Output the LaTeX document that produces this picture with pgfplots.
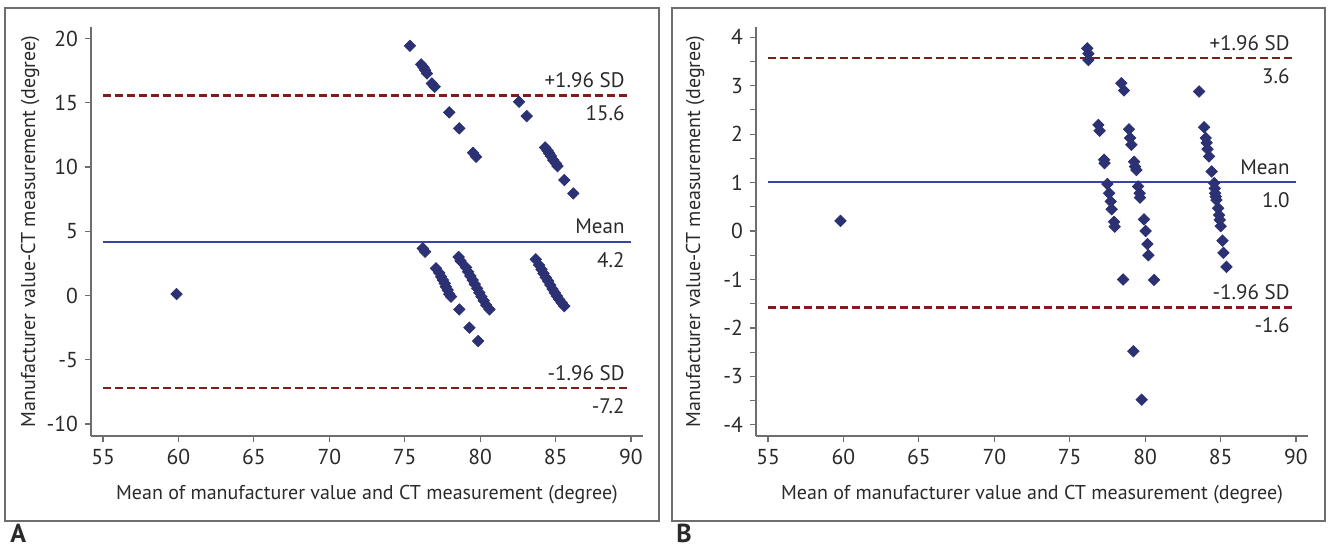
\documentclass[border=0pt]{standalone}
\usepackage{fontspec}
\setmainfont{PT Sans}
\usepackage{pgfplots}
\pgfplotsset{compat=1.18}
\definecolor{cDot}{HTML}{2B3172}
\definecolor{cMean}{HTML}{3A44A8}
\definecolor{cSD}{HTML}{7F1D1D}
\definecolor{cAx}{HTML}{6E6E6E}
\definecolor{cTxt}{HTML}{2A2A2A}

\pgfplotsset{ba/.style={
  scale only axis, width=276pt, height=204.5pt,
  axis lines=left, axis line style={cAx, line width=0.8pt, -},
  xmin=54.2, xmax=90.8, xtick={55,60,...,90},
  tick style={cAx, line width=0.6pt}, tick align=outside,
  major tick length=3pt, minor tick length=3pt,
  tick label style={font=\fontsize{10.8}{12}\selectfont, text=cTxt},
  label style={font=\fontsize{10}{12}\selectfont, text=cTxt},
  /pgf/number format/assume math mode=true,
  xlabel={Mean of manufacturer value and CT measurement (degree)},
  ylabel={Manufacturer value-CT measurement (degree)},
  xlabel style={at={(axis description cs:0.5,-0.144)}, anchor=center},
  ylabel style={at={(axis description cs:-0.11,0.5)}, anchor=center},
  clip=false,
},
dots/.style={only marks, mark=square*, mark size=2pt,
  mark options={rotate=45, draw=cDot, fill=cDot}},
meanl/.style={cMean, line width=1.15pt},
sdl/.style={cSD, line width=1.4pt, dash pattern=on 4pt off 2pt},
}
\tikzset{lab/.style={text=cTxt, font=\fontsize{10.5}{12}\selectfont, inner sep=0pt}}

\begin{document}
\begin{tikzpicture}
\draw[cAx, line width=0.75pt] (2.5pt,-4pt) rectangle (329.5pt,-260.5pt);
\draw[cAx, line width=0.75pt] (336pt,-4pt) rectangle (662.5pt,-260.5pt);
\node[anchor=base west, inner sep=0pt, font=\fontsize{13}{15}\selectfont\bfseries, text=cTxt] at (5pt,-271pt) {A};
\node[anchor=base west, inner sep=0pt, font=\fontsize{13}{15}\selectfont\bfseries, text=cTxt] at (338pt,-271pt) {B};

% panel A
\begin{axis}[ba, at={(45.5pt,-218pt)}, anchor=south west,
  ymin=-10.93, ymax=20.9, ytick={-10,-5,...,20}]
\addplot[sdl] coordinates {(55,15.6)(90,15.6)};
\addplot[sdl] coordinates {(55,-7.2)(90,-7.2)};
\addplot[meanl] coordinates {(55,4.17)(90,4.17)};
\addplot[dots] coordinates {
(75.35,19.44)(76.09,17.99)(76.25,17.76)(76.35,17.55)(76.47,17.29)(76.80,16.51)(76.98,16.25)
(77.95,14.26)(78.62,13.01)(79.53,11.11)(79.73,10.80)(82.58,15.08)(83.09,13.97)
(84.31,11.53)(84.47,11.27)(84.58,11.07)(84.69,10.86)(84.85,10.54)(85.02,10.29)(85.13,10.08)
(85.58,8.99)(86.18,7.95)
(59.87,0.12)
(76.20,3.67)(76.35,3.41)(77.07,2.12)
(77.29,1.77)(77.42,1.46)(77.53,1.21)(77.65,0.95)(77.73,0.68)(77.85,0.43)(77.95,0.12)(78.07,-0.09)
(78.62,-1.08)(78.58,3.00)(78.70,2.70)
(79.07,2.19)(79.20,1.85)(79.35,1.52)(79.51,1.21)(79.64,0.89)(79.80,0.56)(79.95,0.22)
(80.09,-0.09)(80.24,-0.40)(80.40,-0.74)(80.62,-1.07)
(79.29,-2.50)(79.87,-3.54)
(83.69,2.82)(83.91,2.37)(84.07,2.04)(84.20,1.73)(84.35,1.42)(84.51,1.13)(84.65,0.82)
(84.80,0.51)(84.95,0.22)(85.09,-0.04)(85.24,-0.30)(85.40,-0.56)(85.58,-0.82)
};
\node[lab, anchor=base east] at ([xshift=-3pt,yshift=4pt]axis cs:90,15.6) {+1.96 SD};
\node[lab, anchor=north east] at ([xshift=-3pt,yshift=-5pt]axis cs:90,15.6) {15.6};
\node[lab, anchor=base east] at ([xshift=-3pt,yshift=4pt]axis cs:90,4.17) {Mean};
\node[lab, anchor=north east] at ([xshift=-3pt,yshift=-5pt]axis cs:90,4.17) {4.2};
\node[lab, anchor=base east] at ([xshift=-3pt,yshift=4pt]axis cs:90,-7.2) {-1.96 SD};
\node[lab, anchor=north east] at ([xshift=-3pt,yshift=-5pt]axis cs:90,-7.2) {-7.2};
\end{axis}

% panel B
\begin{axis}[ba, at={(378pt,-218pt)}, anchor=south west,
  ymin=-4.23, ymax=4.21, ytick={-4,...,4}, minor ytick={-3.5,-2.5,...,3.5}]
\addplot[sdl] coordinates {(55,3.57)(90,3.57)};
\addplot[sdl] coordinates {(55,-1.57)(90,-1.57)};
\addplot[meanl] coordinates {(55,1.01)(90,1.01)};
\addplot[dots] coordinates {
(59.8,0.21)
(76.16,3.77)(76.24,3.66)(76.24,3.53)
(78.42,3.05)(78.60,2.90)(83.58,2.88)
(76.90,2.19)(76.98,2.07)
(78.93,2.10)(79.00,1.92)(79.09,1.78)
(77.28,1.47)(77.31,1.40)
(79.27,1.43)(79.33,1.33)(79.42,1.26)
(83.91,2.14)(84.02,1.92)(84.08,1.82)(84.14,1.69)(84.24,1.54)(84.41,1.23)
(77.50,0.97)(77.61,0.78)(77.72,0.61)(77.78,0.45)(77.94,0.19)(77.98,0.09)
(79.53,0.92)(79.64,0.78)(79.66,0.69)
(79.93,0.24)(80.03,0.00)(80.15,-0.27)(80.21,-0.50)
(78.54,-1.00)(80.59,-1.01)
(84.58,0.99)(84.62,0.88)(84.64,0.78)(84.68,0.71)(84.73,0.64)(84.84,0.47)(84.90,0.33)
(84.95,0.23)(85.01,0.10)(85.13,-0.20)(85.19,-0.45)(85.39,-0.74)
(79.22,-2.48)(79.77,-3.48)
};
\node[lab, anchor=base east] at ([xshift=-3pt,yshift=4pt]axis cs:90,3.57) {+1.96 SD};
\node[lab, anchor=north east] at ([xshift=-3pt,yshift=-5pt]axis cs:90,3.57) {3.6};
\node[lab, anchor=base east] at ([xshift=-3pt,yshift=4pt]axis cs:90,1.01) {Mean};
\node[lab, anchor=north east] at ([xshift=-3pt,yshift=-5pt]axis cs:90,1.01) {1.0};
\node[lab, anchor=base east] at ([xshift=-3pt,yshift=4pt]axis cs:90,-1.57) {-1.96 SD};
\node[lab, anchor=north east] at ([xshift=-3pt,yshift=-5pt]axis cs:90,-1.57) {-1.6};
\end{axis}

\pgfresetboundingbox
\path[use as bounding box] (0pt,0pt) rectangle (664pt,-273.5pt);
\end{tikzpicture}
\end{document}
